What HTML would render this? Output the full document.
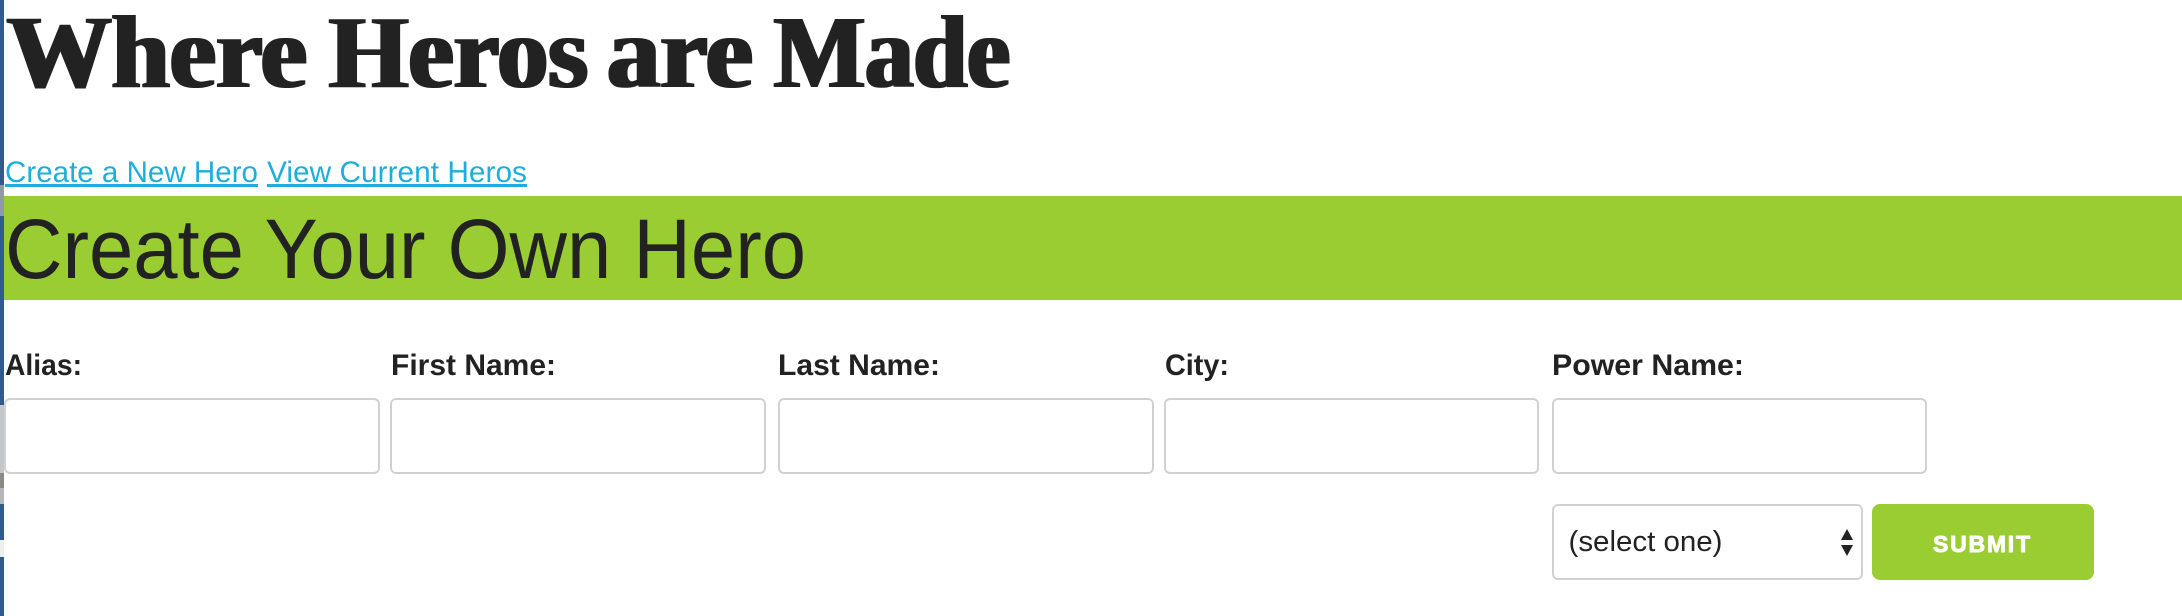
<!DOCTYPE html>
<html lang="en">
<head>
<meta charset="utf-8">
<title>Where Heros are Made</title>
<style>
html,body{margin:0;padding:0;width:2182px;height:616px;overflow:hidden;background:#fff}
body{position:relative;font-family:"Liberation Sans",sans-serif;color:#222}
.abs{position:absolute;box-sizing:border-box}
.field{background:#fff;border:2px solid #d1d1d1;border-radius:6px;top:398px;width:375px;height:76px;margin:0;padding:0;outline:none}
.seg{position:absolute;left:0;width:4px}
svg{position:absolute;left:0;top:0}
a{fill:#1eaedb}
</style>
</head>
<body>
<div class="abs" style="left:0;top:0;width:4px;height:616px;background:#2f5b8e"></div>
<div class="seg" style="top:185px;height:31px;background:#8f9aa6"></div>
<div class="seg" style="top:405px;height:68px;background:#c4c6c8"></div>
<div class="seg" style="top:473px;height:15px;background:#8a8a88"></div>
<div class="seg" style="top:488px;height:16px;background:#b5b8ba"></div>
<div class="seg" style="top:540px;height:17px;background:#eeeeee"></div>

<div class="abs" style="left:4px;top:196px;width:2178px;height:104px;background:#9acd32"></div>

<input class="abs field" type="text" style="left:4px;width:376px">
<input class="abs field" type="text" style="left:390px;width:376px">
<input class="abs field" type="text" style="left:778px;width:376px">
<input class="abs field" type="text" style="left:1164px">
<input class="abs field" type="text" style="left:1552px">

<div class="abs field" style="left:1552px;top:504px;width:311px;height:76px"></div>
<div class="abs" style="left:1872px;top:504px;width:222px;height:76px;background:#9acd32;border-radius:8px"></div>

<svg width="2182" height="616" viewBox="0 0 2182 616" font-family="'Liberation Sans',sans-serif" fill="#222">
  <defs>
    <filter id="fat" filterUnits="userSpaceOnUse" x="0" y="0" width="1100" height="130" color-interpolation-filters="sRGB">
      <feMorphology operator="dilate" radius="2 0"/>
    </filter>
  </defs>
  <g font-family="'Liberation Serif',serif" font-weight="700" font-size="104" filter="url(#fat)">
    <text x="7" y="87" textLength="300" lengthAdjust="spacingAndGlyphs">Where</text>
    <text x="329" y="87" textLength="259" lengthAdjust="spacingAndGlyphs">Heros</text>
    <text x="607" y="87" textLength="146" lengthAdjust="spacingAndGlyphs">are</text>
    <text x="774" y="87" textLength="236" lengthAdjust="spacingAndGlyphs">Made</text>
  </g>
  <a href="#"><text x="5" y="182" font-size="30" text-decoration="underline" textLength="253" lengthAdjust="spacingAndGlyphs">Create a New Hero</text></a>
  <a href="#"><text x="267" y="182" font-size="30" text-decoration="underline" textLength="260" lengthAdjust="spacingAndGlyphs">View Current Heros</text></a>
  <text x="5" y="278" font-size="84" textLength="801" lengthAdjust="spacingAndGlyphs">Create Your Own Hero</text>
  <g font-size="30" font-weight="700">
    <text x="5" y="375" textLength="77" lengthAdjust="spacingAndGlyphs">Alias:</text>
    <text x="391" y="375" textLength="165" lengthAdjust="spacingAndGlyphs">First Name:</text>
    <text x="778" y="375" textLength="162" lengthAdjust="spacingAndGlyphs">Last Name:</text>
    <text x="1165" y="375" textLength="64" lengthAdjust="spacingAndGlyphs">City:</text>
    <text x="1552" y="375" textLength="192" lengthAdjust="spacingAndGlyphs">Power Name:</text>
  </g>
  <text x="1568.5" y="551" font-size="29" textLength="154" lengthAdjust="spacingAndGlyphs">(select one)</text>
  <polygon points="1847,529 1853,540 1841,540" fill="#222"/>
  <polygon points="1841,545 1853,545 1847,556" fill="#222"/>
  <text x="1933" y="552" font-size="23" font-weight="700" fill="#fff" stroke="#fff" stroke-width="0.9" textLength="97" lengthAdjust="spacing">SUBMIT</text>
</svg>
</body>
</html>
